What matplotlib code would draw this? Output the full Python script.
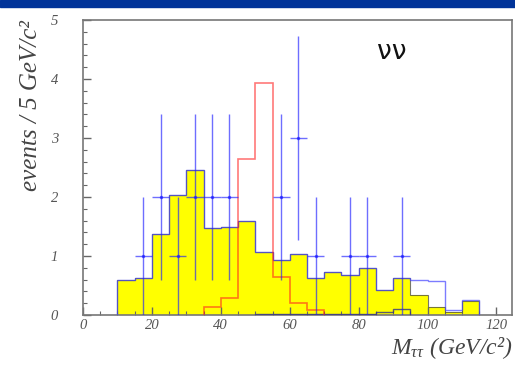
"""
M_tautau fordeling, nu-nu kanal: data mot MC-histogrammer.
"""

import matplotlib
matplotlib.use('Agg')
import matplotlib.pyplot as plt
import numpy as np
from matplotlib.ticker import MultipleLocator

plt.rcParams['mathtext.fontset'] = 'custom'
plt.rcParams['mathtext.rm'] = 'Liberation Serif'
plt.rcParams['mathtext.it'] = 'Liberation Serif:italic'

# Gul MC (bakgrunn), 5 GeV bins fra 10 til 115
yellow_edges = np.arange(10, 120, 5)
yellow_vals = [0.6, 0.62, 1.38, 2.03, 2.45, 1.47, 1.49, 1.6, 1.06, 0.93, 1.03,
               0.62, 0.73, 0.68, 0.79, 0.43, 0.62, 0.34, 0.14, 0.05, 0.24]

# Bl√• total-kurve (lik gul opp til 95)
blue_vals = yellow_vals[:17] + [0.6, 0.58, 0.085, 0.25]

# R√∏d signal-kurve, 35 til 70
red_edges = np.arange(35, 75, 5)
red_vals = [0.14, 0.28, 2.64, 3.94, 0.65, 0.21, 0.09]

# Liten m√∏rk kurve ved null, 50 til 95
low_edges = np.arange(50, 100, 5)
low_vals = [0.01, 0.01, 0.01, 0.01, 0.01, 0.01, 0.01, 0.045, 0.1]

# Datapunkter
data_x = [17.5, 22.5, 27.5, 32.5, 37.5, 42.5, 57.5, 62.5, 67.5, 77.5, 82.5, 92.5]
data_n = [1, 2, 1, 2, 2, 2, 2, 3, 1, 1, 1, 1]

fig = plt.figure(figsize=(5.15, 3.79), dpi=100)
# bl√•tt b√•nd √∏verst (lysbilde-header)
fig.patches.append(plt.Rectangle((0, 1 - 7 / 379), 1, 7 / 379, transform=fig.transFigure,
                                 color='#003399', zorder=0))

ax = fig.add_axes([83 / 515, 1 - 315 / 379, (512 - 83) / 515, (315 - 20) / 379])

ax.stairs(yellow_vals, yellow_edges, fill=True, color='#ffff00', zorder=1)
ax.stairs(yellow_vals, yellow_edges, color='#555544', lw=0.8, alpha=0.8, zorder=2)
ax.stairs(blue_vals, yellow_edges, color='#4444ff', lw=1.0, alpha=0.7, zorder=3)
ax.stairs(low_vals, low_edges, color='#333388', lw=1.0, alpha=0.8, zorder=3)
ax.stairs(red_vals, red_edges, color='#ff2020', lw=1.2, alpha=0.6, zorder=4)

err = np.sqrt(data_n)
ax.errorbar(data_x, data_n, yerr=err, xerr=2.5, fmt='o', ms=1.5, color='#2020ff',
            ecolor='#2020ff', elinewidth=1.0, capsize=0, alpha=0.65, zorder=5)

ax.text(89.5, 4.46, 'νν', fontsize=19, family='DejaVu Sans', ha='center', va='center',
        color='#111111')

ax.set_xlim(0, 124.5)
ax.set_ylim(0, 5)

ax.xaxis.set_major_locator(MultipleLocator(20))
ax.xaxis.set_minor_locator(MultipleLocator(5))
ax.yaxis.set_major_locator(MultipleLocator(1))
ax.yaxis.set_minor_locator(MultipleLocator(0.2))
ax.tick_params(which='both', direction='in', top=False, right=False, color='#666666')
ax.tick_params(which='major', length=6, width=1)
ax.tick_params(which='minor', length=3, width=0.8)
ax.tick_params(axis='y', which='major', pad=18)
ax.tick_params(axis='x', which='major', pad=3)

for lab in ax.get_xticklabels() + ax.get_yticklabels():
    lab.set_family('Liberation Serif')
    lab.set_style('italic')
    lab.set_fontsize(10.5)
    lab.set_color('#555555')

for sp in ax.spines.values():
    sp.set_color('#777777')
    sp.set_linewidth(1.2)

ax.set_ylabel('events / 5 GeV/c²', family='Liberation Serif', style='italic',
              fontsize=18, color='#444444', loc='top', labelpad=6)
ax.set_xlabel(r'$M_{\tau\tau}$ (GeV/c²)', family='Liberation Serif', style='italic',
              fontsize=17, color='#444444', loc='right', labelpad=2)

plt.savefig('out.png', dpi=100)
plt.close()
